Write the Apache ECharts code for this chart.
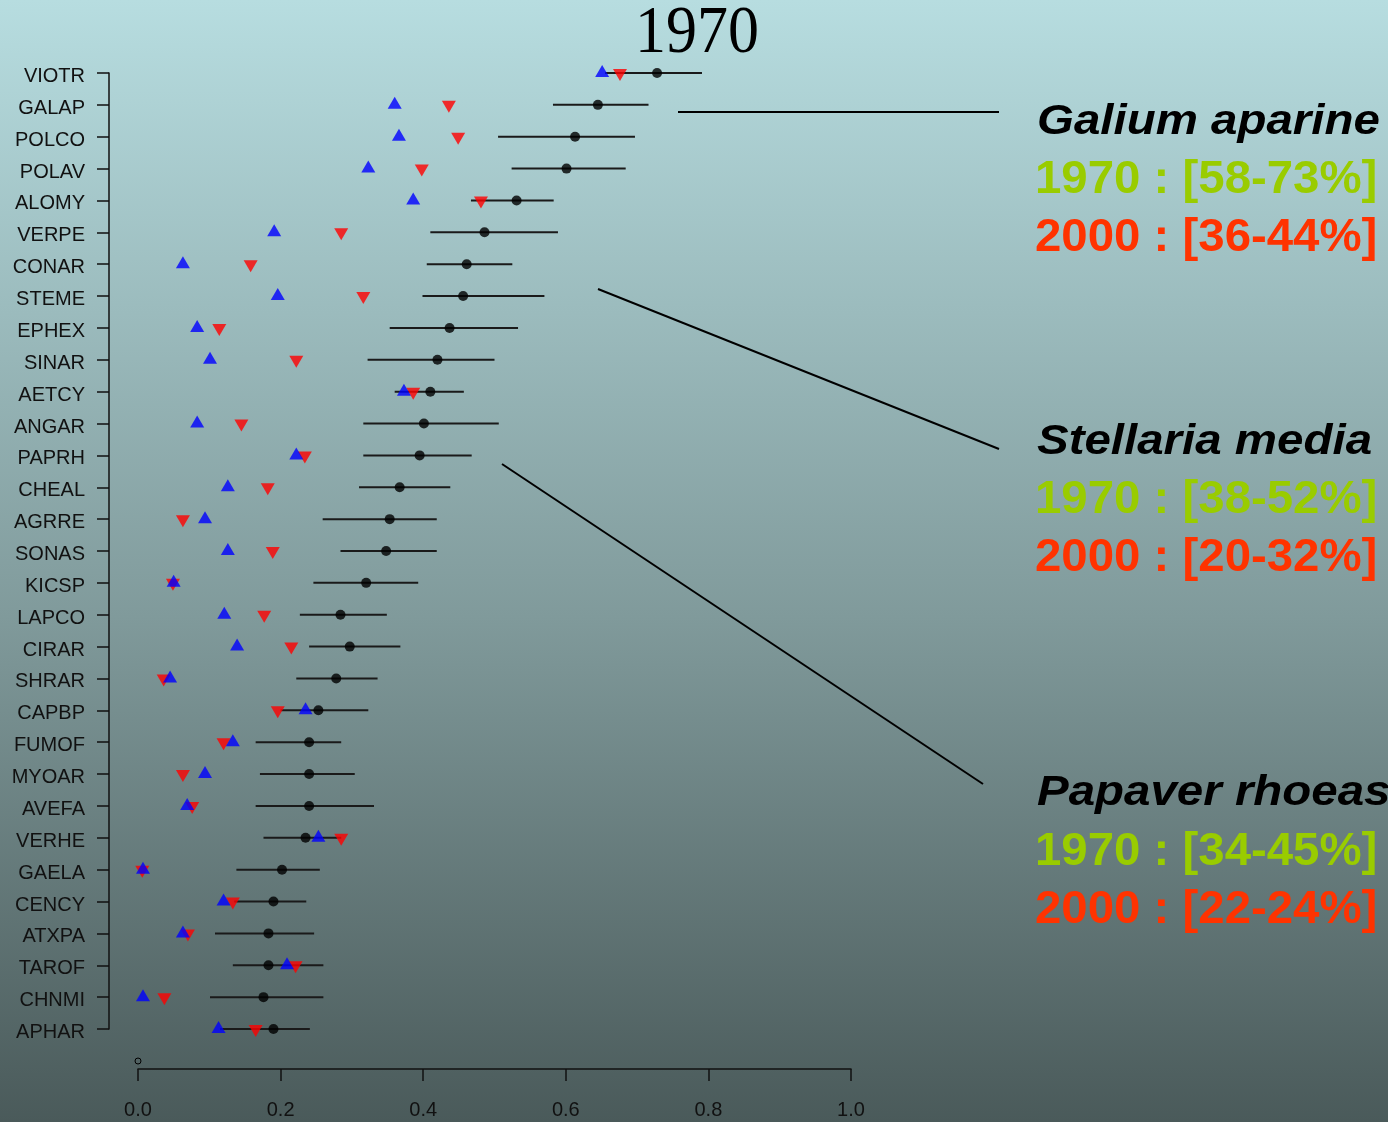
<!DOCTYPE html>
<html>
<head>
<meta charset="utf-8">
<script src="https://cdn.jsdelivr.net/npm/echarts@6/dist/echarts.min.js"></script>
<style>
html,body{margin:0;padding:0;}
#chart{width:1388px;height:1122px;}
</style>
</head>
<body>
<div id="chart"></div>
<script>
const categories = ['VIOTR','GALAP','POLCO','POLAV','ALOMY','VERPE','CONAR','STEME','EPHEX','SINAR','AETCY','ANGAR','PAPRH','CHEAL','AGRRE','SONAS','KICSP','LAPCO','CIRAR','SHRAR','CAPBP','FUMOF','MYOAR','AVEFA','VERHE','GAELA','CENCY','ATXPA','TAROF','CHNMI','APHAR'];
const meanValues = [0.728,0.645,0.613,0.601,0.531,0.486,0.461,0.456,0.437,0.420,0.410,0.401,0.395,0.367,0.353,0.348,0.320,0.284,0.297,0.278,0.253,0.240,0.240,0.240,0.235,0.202,0.190,0.183,0.183,0.176,0.190];
const lowerValues = [0.655,0.582,0.505,0.524,0.467,0.410,0.405,0.399,0.353,0.322,0.360,0.316,0.316,0.310,0.259,0.284,0.246,0.227,0.240,0.222,0.200,0.165,0.171,0.165,0.176,0.138,0.135,0.108,0.133,0.101,0.115];
const upperValues = [0.791,0.716,0.697,0.684,0.583,0.589,0.525,0.570,0.533,0.500,0.457,0.506,0.468,0.438,0.419,0.419,0.393,0.349,0.368,0.336,0.323,0.285,0.304,0.331,0.285,0.255,0.236,0.247,0.260,0.260,0.241];
const blueValues = [0.651,0.360,0.366,0.323,0.386,0.191,0.063,0.196,0.083,0.101,0.373,0.083,0.222,0.126,0.094,0.126,0.050,0.121,0.139,0.045,0.235,0.133,0.094,0.069,0.253,0.007,0.120,0.063,0.209,0.007,0.113];
const redValues = [0.676,0.436,0.449,0.398,0.481,0.285,0.158,0.316,0.114,0.222,0.386,0.145,0.234,0.182,0.063,0.189,0.049,0.177,0.215,0.036,0.196,0.120,0.063,0.076,0.285,0.006,0.133,0.070,0.221,0.037,0.165];
const xTicks = [0, 0.2, 0.4, 0.6, 0.8, 1.0];
const titleText = '1970';
const annotations = [
  {name:'Galium aparine', y1970:'1970 : [58-73%]', y2000:'2000 : [36-44%]'},
  {name:'Stellaria media', y1970:'1970 : [38-52%]', y2000:'2000 : [20-32%]'},
  {name:'Papaver rhoeas', y1970:'1970 : [34-45%]', y2000:'2000 : [22-24%]'}
];

const FONT = '"Liberation Sans", Arial, sans-serif';
const chart = echarts.init(document.getElementById('chart'), null, {renderer:'canvas'});

const annoY = [[122,180,238],[442,500,558],[793,852,910]];
const graphics = [];
annotations.forEach((a, i) => {
  graphics.push({type:'text', x:1037, y:annoY[i][0], scaleX:1.13,
    style:{text:a.name, fill:'#000', fontSize:42, fontWeight:'bold', fontStyle:'italic', fontFamily:FONT, align:'left', verticalAlign:'middle'}});
  graphics.push({type:'text', x:1035, y:annoY[i][1], scaleX:1.03,
    style:{text:a.y1970, fill:'#99cc00', fontSize:46, fontWeight:'bold', fontFamily:FONT, align:'left', verticalAlign:'middle'}});
  graphics.push({type:'text', x:1035, y:annoY[i][2], scaleX:1.03,
    style:{text:a.y2000, fill:'#ff3300', fontSize:46, fontWeight:'bold', fontFamily:FONT, align:'left', verticalAlign:'middle'}});
});
graphics.push({type:'line', shape:{x1:678,y1:112,x2:999,y2:112}, style:{stroke:'#000', lineWidth:2}});
graphics.push({type:'line', shape:{x1:598,y1:289,x2:999,y2:449}, style:{stroke:'#000', lineWidth:2}});
graphics.push({type:'line', shape:{x1:502,y1:464,x2:983,y2:784}, style:{stroke:'#000', lineWidth:2}});
graphics.push({type:'text', x:697, y:34, scaleY:1.08,
  style:{text:titleText, fill:'#000', fontSize:62, fontFamily:'"Liberation Serif", "Times New Roman", serif', align:'center', verticalAlign:'middle'}});
graphics.push({type:'circle', shape:{cx:138, cy:1061, r:3}, style:{fill:'none', stroke:'#000', lineWidth:1}});

const option = {
  backgroundColor: {
    type:'linear', x:0, y:0, x2:0, y2:1,
    colorStops:[
      {offset:0, color:'rgb(183,221,224)'},
      {offset:0.55, color:'rgb(128,154,155)'},
      {offset:1, color:'rgb(74,90,90)'}
    ]
  },
  animation:false,
  grid:{left:138, right:537, top:73, bottom:93, outerBoundsMode:'none', containLabel:false},
  xAxis:{
    type:'value', min:0, max:1, interval:0.2, position:'bottom', offset:40,
    axisLine:{show:true, onZero:false, lineStyle:{color:'#111', width:1.5}},
    axisTick:{show:true, length:12, lineStyle:{color:'#111', width:1.5}},
    axisLabel:{fontSize:20, color:'#111', fontFamily:FONT, margin:31, formatter: v => v.toFixed(1)},
    splitLine:{show:false}
  },
  yAxis:{
    type:'category', data:categories, inverse:true, boundaryGap:false, offset:29,
    axisLine:{show:true, onZero:false, lineStyle:{color:'#111', width:1.5}},
    axisTick:{show:true, length:12, alignWithLabel:true, lineStyle:{color:'#111', width:1.5}},
    axisLabel:{fontSize:20, color:'#111', fontFamily:FONT, margin:24, interval:0, verticalAlign:'top', lineHeight:7},
    splitLine:{show:false}
  },
  graphic: graphics,
  series:[
    {
      type:'custom', z:2,
      data: categories.map((c,i) => [lowerValues[i], upperValues[i], i]),
      encode:{x:[0,1], y:2},
      clip:false,
      renderItem:(params, api) => {
        const y = api.value(2);
        const p1 = api.coord([api.value(0), y]);
        const p2 = api.coord([api.value(1), y]);
        return {type:'line', shape:{x1:p1[0], y1:p1[1], x2:p2[0], y2:p2[1]}, style:{stroke:'#1a1a1a', lineWidth:2}};
      }
    },
    {
      type:'scatter', z:3, symbol:'circle', symbolSize:10,
      itemStyle:{color:'#000'},
      data: meanValues.map((v,i) => [v, i])
    },
    {
      type:'scatter', z:4, symbol:'triangle', symbolSize:[14,12], symbolRotate:180, symbolOffset:[0,2],
      itemStyle:{color:'#ff0000'},
      data: redValues.map((v,i) => [v, i])
    },
    {
      type:'scatter', z:5, symbol:'triangle', symbolSize:[14,12], symbolOffset:[0,-2],
      itemStyle:{color:'#0000ff'},
      data: blueValues.map((v,i) => [v, i])
    }
  ]
};
chart.setOption(option);
</script>
</body>
</html>
